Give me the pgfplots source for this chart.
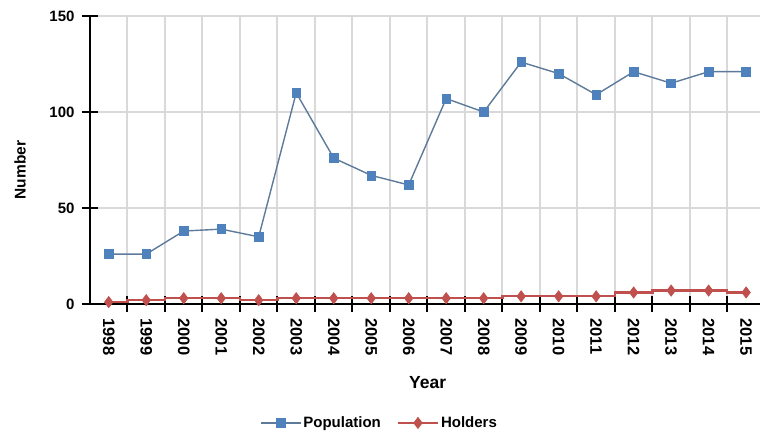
\documentclass[border=0pt]{standalone}
\usepackage{pgfplots}
\pgfplotsset{compat=1.18}
\usepackage{fontspec}
\setmainfont{Liberation Sans}
\definecolor{popblue}{HTML}{4F81BD}
\definecolor{popline}{HTML}{5E7A9A}
\definecolor{holdred}{HTML}{C0504D}
\definecolor{gridgray}{HTML}{D9D9D9}
\begin{document}
\begin{tikzpicture}
\path[use as bounding box] (-90pt,-128pt) rectangle (670pt,304pt);
\begin{axis}[
  scale only axis, width=670pt, height=288pt,
  xmin=-0.5, xmax=17.37, ymin=0, ymax=150,
  axis x line*=bottom, axis y line*=left,
  axis line style={black, line width=2pt},
  /pgf/number format/assume math mode=true,
  font=\bfseries\fontsize{15}{17}\selectfont,
  xtick={0.5,1.5,2.5,3.5,4.5,5.5,6.5,7.5,8.5,9.5,10.5,11.5,12.5,13.5,14.5,15.5,16.5},
  xticklabels={},
  xmajorgrids=true,
  extra x ticks={0,1,2,3,4,5,6,7,8,9,10,11,12,13,14,15,16,17},
  extra x tick labels={1998,1999,2000,2001,2002,2003,2004,2005,2006,2007,2008,2009,2010,2011,2012,2013,2014,2015},
  extra x tick style={major tick length=0pt, grid=none,
    xticklabel style={rotate=-90, anchor=west, font=\bfseries\fontsize{16.5}{17}\selectfont, xshift=11pt}},
  ytick={0,50,100,150},
  ymajorgrids=true,
  grid style={gridgray, line width=2pt},
  tick align=center,
  major tick length=16pt,
  tick style={black, line width=2pt},
  yticklabel style={font=\bfseries\fontsize{15}{17}\selectfont, xshift=-4pt},
  xlabel={Year},
  ylabel={Number},
  xlabel style={at={(axis description cs:0.504,-0.274)}, anchor=center, font=\bfseries\fontsize{17.5}{19}\selectfont},
  ylabel style={at={(axis description cs:-0.1045,0.465)}, anchor=center, font=\bfseries\fontsize{15.5}{17}\selectfont},
  legend style={at={(axis description cs:0.432,-0.413)}, anchor=center, draw=none, fill=none,
    font=\bfseries\fontsize{15}{17}\selectfont, /tikz/every even column/.append style={column sep=14pt}},
  legend columns=2,
  legend image code/.code={\draw[#1, mark repeat=2, mark phase=2] plot coordinates {(0pt,0pt) (20pt,0pt) (40pt,0pt)};},
]
\addplot[popline, line width=1.4pt, mark=square*, mark size=4.4pt, mark options={draw=popblue, fill=popblue, line width=0.5pt}]
coordinates {(0,26) (1,26) (2,38) (3,39) (4,35) (5,110) (6,76) (7,67) (8,62) (9,107) (10,100) (11,126) (12,120) (13,109) (14,121) (15,115) (16,121) (17,121)};
\addlegendentry{Population}
\addplot[holdred, line width=2.2pt, const plot mark mid, mark=diamond*, mark size=5.5pt, mark options={fill=holdred, draw=holdred, line width=0.8pt}]
coordinates {(0,1) (1,2) (2,3) (3,3) (4,2) (5,3) (6,3) (7,3) (8,3) (9,3) (10,3) (11,4) (12,4) (13,4) (14,6) (15,7) (16,7) (17,6)};
\addlegendentry{Holders}
\end{axis}
\end{tikzpicture}
\end{document}
